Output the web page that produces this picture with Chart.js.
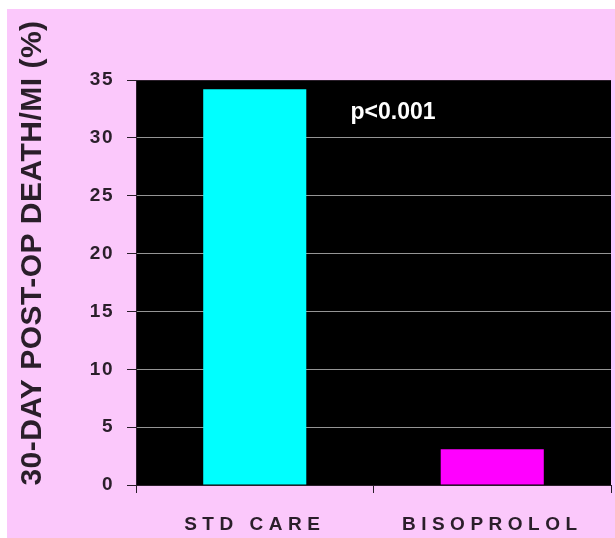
<!DOCTYPE html>
<html>
<head>
<meta charset="utf-8">
<script src="https://cdn.jsdelivr.net/npm/chart.js@4.4.1/dist/chart.umd.min.js"></script>
<style>
  html, body { margin: 0; padding: 0; background: #ffffff; }
  canvas { display: block; }
</style>
</head>
<body>
<canvas id="chart" width="615" height="538"></canvas>
<script>
// Data
const categories = ['STD CARE', 'BISOPROLOL'];
const eventRates = [34.2, 3.1];          // 30-day death/MI, %
const barColors = ['#00ffff', '#ff00ff'];
const yMin = 0, yMax = 35, yStep = 5;
const axisTitle = '30-DAY POST-OP DEATH/MI (%)';
const pValueLabel = 'p<0.001';
const pValueAt = { x: 0.5, y: 31.6 };    // anchored between the two groups

// Styling
const FONT = '"Liberation Sans", Arial, sans-serif';
const PINK = '#fbc8fb';
const DARK = '#2a1e2a';
const GRID = '#959595';

// Page frame, plot background, title and annotation
const framePlugin = {
  id: 'frame',
  beforeDraw(chart) {
    const { ctx, chartArea: a, width, height } = chart;
    ctx.save();
    ctx.fillStyle = PINK;
    ctx.fillRect(7, 9, width - 7, height - 9);
    ctx.fillStyle = '#000000';
    ctx.fillRect(a.left, a.top, a.right - a.left, a.bottom - a.top);
    ctx.restore();
    // letter-spaced tick labels
    for (const [id, sp] of [['x', 5.5], ['y', 1.5]]) {
      const s = chart.scales[id];
      if (s && !s._spaced) {
        const orig = s.drawLabels;
        s.drawLabels = function (area) {
          this.ctx.save();
          this.ctx.letterSpacing = sp + 'px';
          orig.call(this, area);
          this.ctx.restore();
        };
        s._spaced = true;
      }
    }
  },
  afterDraw(chart) {
    const { ctx, scales } = chart;
    // rotated axis title
    ctx.save();
    ctx.translate(41, 253);
    ctx.rotate(-Math.PI / 2);
    ctx.font = 'bold 30px ' + FONT;
    ctx.letterSpacing = '0.5px';
    ctx.fillStyle = DARK;
    ctx.textAlign = 'center';
    ctx.textBaseline = 'alphabetic';
    ctx.fillText(axisTitle, 0, 0);
    ctx.restore();
    // p-value annotation
    ctx.save();
    ctx.font = 'bold 23px ' + FONT;
    ctx.fillStyle = '#ffffff';
    ctx.textAlign = 'left';
    ctx.textBaseline = 'alphabetic';
    ctx.fillText(pValueLabel,
      scales.x.getPixelForValue(pValueAt.x) - 23,
      scales.y.getPixelForValue(pValueAt.y));
    ctx.restore();
  }
};

new Chart(document.getElementById('chart'), {
  type: 'bar',
  data: {
    labels: categories,
    datasets: [{
      data: eventRates,
      backgroundColor: barColors,
      borderWidth: 0,
      categoryPercentage: 1.0,
      barPercentage: 0.434
    }]
  },
  options: {
    responsive: false,
    animation: false,
    devicePixelRatio: 1,
    layout: { padding: { top: 80, right: 4, left: 0, bottom: 0 } },
    plugins: { legend: { display: false }, tooltip: { enabled: false } },
    scales: {
      y: {
        min: yMin,
        max: yMax,
        ticks: {
          stepSize: yStep,
          font: { family: FONT, size: 19, weight: 'bold' },
          color: DARK,
          padding: 13
        },
        grid: {
          color: (c) => (c.tick && c.tick.value === yMax ? DARK : GRID),
          tickColor: DARK,
          tickLength: 9,
          lineWidth: 1
        },
        border: { color: DARK, width: 1 },
        afterFit: (s) => { s.width = 136; }
      },
      x: {
        offset: true,
        ticks: {
          font: { family: FONT, size: 19, weight: 'bold' },
          color: DARK,
          padding: 20
        },
        grid: {
          offset: true,
          drawOnChartArea: true,
          color: (c) => (c.index === categories.length ? DARK : 'rgba(0,0,0,0)'),
          tickColor: DARK,
          tickLength: 8,
          lineWidth: 1
        },
        border: { color: DARK, width: 1 },
        afterFit: (s) => { s.height = 53; }
      }
    }
  },
  plugins: [framePlugin]
});
</script>
</body>
</html>
